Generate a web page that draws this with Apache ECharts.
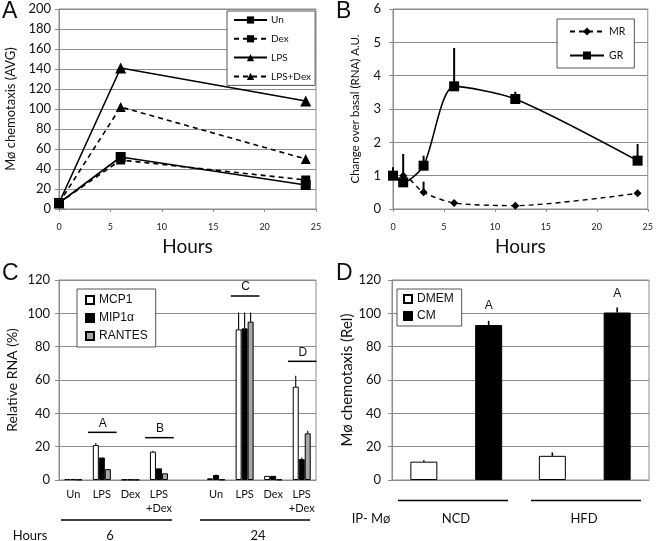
<!DOCTYPE html>
<html><head><meta charset="utf-8">
<script src="https://cdn.jsdelivr.net/npm/echarts@6/dist/echarts.min.js"></script>
<style>html,body{margin:0;padding:0;background:#fff}#c{width:656px;height:541px}</style>
</head><body><div id="c"></div>
<script>
// ---- Panel A ----
const aHours = [0, 6, 24];
const aUn = [6, 52, 24];
const aDex = [6, 49, 29];
const aLPS = [6, 141, 108];
const aLPSDex = [6, 102, 50];
// ---- Panel B ----
const bHours = [0, 1, 3, 6, 12, 24];
const bMR = [1.0, 1.0, 0.5, 0.18, 0.1, 0.47];
const bGR = [1.0, 0.8, 1.3, 3.68, 3.3, 1.45];
const bMRErr = [0, 0.65, 0.32, 0, 0, 0];
const bGRErr = [0.25, 0, 0.3, 1.15, 0.22, 0.5];
// ---- Panel C ----
const cCats = ['Un', 'LPS', 'Dex', 'LPS\n+Dex', '', 'Un', 'LPS', 'Dex', 'LPS\n+Dex'];
const cMCP1 = [0.5, 21, 0.3, 17, null, 1, 90.4, 2.5, 56];
const cMIP1a = [0.5, 13.5, 0.3, 7, null, 3, 91, 2.5, 12.5];
const cRANTES = [0.3, 6.5, 0.2, 4, null, 0.3, 95, 0.3, 28];
const cMCP1Err = [0, 1.2, 0, 0.5, null, 0, 10.1, 0, 6.5];
const cMIP1aErr = [0, 0, 0, 0, null, 0.3, 9.5, 0, 1];
const cRANTESErr = [0, 0, 0, 0, null, 0, 5.5, 0, 1.5];
const cSigLabels = ['A', 'B', 'C', 'D'];
const cSigCats = [1, 3, 6, 8];
const cSigY = [28.6, 25.4, 110.4, 71.2];
const cHourGroups = ['6', '24'];
// ---- Panel D ----
const dCats = ['NCD', 'HFD'];
const dDMEM = [11, 14.5];
const dCM = [93, 100.5];
const dDMEMErr = [0.8, 2];
const dCMErr = [2.5, 3];
const dSig = ['A', 'A'];

const GRID_C = '#8c8c8c';
const FONT = 'Lato';
const AR = 'Liberation Sans';

function valX(gi, extra) {
  return Object.assign({
    gridIndex: gi, type: 'value', min: 0, max: 25, interval: 5,
    axisLine: { show: true, lineStyle: { color: GRID_C } },
    axisTick: { show: true, length: 3, lineStyle: { color: GRID_C } },
    splitLine: { show: false },
    axisLabel: { fontFamily: FONT, fontSize: 9, color: '#222', margin: 14 },
    name: 'Hours', nameLocation: 'middle', nameGap: 28,
    nameTextStyle: { fontFamily: FONT, fontSize: 19, color: '#111' }
  }, extra || {});
}
function valY(gi, max, interval, name, nameGap, nameSize, margin) {
  return {
    gridIndex: gi, type: 'value', min: 0, max: max, interval: interval,
    axisLine: { show: true, lineStyle: { color: GRID_C } },
    axisTick: { show: true, length: 4, lineStyle: { color: GRID_C } },
    splitLine: { show: true, lineStyle: { color: GRID_C, width: 1 } },
    axisLabel: { fontFamily: FONT, fontSize: 13, color: '#111', margin: margin },
    name: name, nameLocation: 'middle', nameGap: nameGap, nameRotate: 90,
    nameTextStyle: { fontFamily: FONT, fontSize: nameSize, color: '#111' }
  };
}
function pairs(xs, ys) { return xs.map((x, i) => [x, ys[i]]); }

const lineBase = { type: 'line', lineStyle: { color: '#000', width: 1.6 }, itemStyle: { color: '#000' }, symbolKeepAspect: true, z: 3 };

function errItem(api, offset) {
  const p0 = api.coord([api.value(0), api.value(1)]);
  const p1 = api.coord([api.value(0), api.value(1) + api.value(2)]);
  return { type: 'line', shape: { x1: p0[0] + offset, y1: p0[1], x2: p1[0] + offset, y2: p1[1] }, style: { stroke: '#000', lineWidth: api.value(3) } };
}

const barW = 6;
function cErrSeries(vals, errs, slot) {
  return {
    type: 'custom', xAxisIndex: 2, yAxisIndex: 2, z: 5, clip: false,
    data: vals.map((v, i) => (v == null || !errs[i]) ? null : [i, v, errs[i], 1.1]).filter(d => d),
    renderItem: (params, api) => errItem(api, (slot - 1) * barW)
  };
}

const option = {
  animation: false,
  backgroundColor: '#fff',
  grid: [
    { left: 59, top: 9, width: 257, height: 200, show: true, borderColor: GRID_C, borderWidth: 1 },
    { left: 393, top: 9, width: 256, height: 200, show: true, borderColor: GRID_C, borderWidth: 1 },
    { left: 59, top: 280, width: 257, height: 200, show: true, borderColor: GRID_C, borderWidth: 1 },
    { left: 392, top: 280, width: 257, height: 200, show: true, borderColor: GRID_C, borderWidth: 1 }
  ],
  xAxis: [
    valX(0),
    valX(1),
    {
      gridIndex: 2, type: 'category', data: cCats,
      axisLine: { show: true, lineStyle: { color: GRID_C } },
      axisTick: { show: false },
      axisLabel: { fontFamily: FONT, fontSize: 11, color: '#111', margin: 7, lineHeight: 14, interval: 0 }
    },
    {
      gridIndex: 3, type: 'category', data: dCats,
      axisLine: { show: true, lineStyle: { color: GRID_C } },
      axisTick: { show: false }, axisLabel: { show: false }
    }
  ],
  yAxis: [
    valY(0, 200, 20, 'Mø chemotaxis (AVG)', 42, 13, 8),
    valY(1, 6, 1, 'Change over basal (RNA) A.U.', 32, 11.5, 12),
    valY(2, 120, 20, 'Relative RNA (%)', 40, 14, 9),
    valY(3, 120, 20, 'Mø chemotaxis (Rel)', 30, 15, 11)
  ],
  legend: [
    {
      data: ['Un', 'Dex', 'LPS', 'LPS+Dex'], orient: 'vertical', left: 227, top: 11,
      itemWidth: 33, itemHeight: 9, itemGap: 8.8, padding: [4, 4, 4, 6],
      borderColor: '#555', borderWidth: 1, backgroundColor: '#fff',
      textStyle: { fontFamily: FONT, fontSize: 10, color: '#111', padding: [0, 0, 0, -1] }
    },
    {
      data: ['MR', 'GR'], orient: 'vertical', left: 557, top: 19,
      itemWidth: 34, itemHeight: 10, itemGap: 13, padding: [7, 9, 7, 12],
      borderColor: '#555', borderWidth: 1, backgroundColor: '#fff',
      textStyle: { fontFamily: FONT, fontSize: 10.5, color: '#111' }
    },
    {
      data: ['MCP1', 'MIP1α', 'RANTES'], orient: 'vertical', left: 77, top: 289,
      icon: 'rect', itemWidth: 8, itemHeight: 8, itemGap: 6, padding: [5, 8, 5, 8],
      borderColor: '#555', borderWidth: 1, backgroundColor: '#fff',
      textStyle: { fontFamily: AR, fontSize: 12, color: '#111' }
    },
    {
      data: ['DMEM', 'CM'], orient: 'vertical', left: 397, top: 289,
      icon: 'rect', itemWidth: 8, itemHeight: 8, itemGap: 5, padding: [4, 8, 4, 6],
      borderColor: '#555', borderWidth: 1, backgroundColor: '#fff',
      textStyle: { fontFamily: AR, fontSize: 12, color: '#111' }
    }
  ],
  series: [
    // Panel A
    Object.assign({}, lineBase, { name: 'Un', xAxisIndex: 0, yAxisIndex: 0, data: pairs(aHours, aUn), symbol: 'rect', symbolSize: 10 }),
    Object.assign({}, lineBase, { name: 'Dex', xAxisIndex: 0, yAxisIndex: 0, data: pairs(aHours, aDex), symbol: 'rect', symbolSize: 9, lineStyle: { color: '#000', width: 1.6, type: [5, 4] } }),
    Object.assign({}, lineBase, { name: 'LPS', xAxisIndex: 0, yAxisIndex: 0, data: pairs(aHours, aLPS), symbol: 'triangle', symbolSize: 11 }),
    Object.assign({}, lineBase, { name: 'LPS+Dex', xAxisIndex: 0, yAxisIndex: 0, data: pairs(aHours, aLPSDex), symbol: 'triangle', symbolSize: 10, lineStyle: { color: '#000', width: 1.6, type: [5, 4] } }),
    // Panel B
    Object.assign({}, lineBase, { name: 'MR', xAxisIndex: 1, yAxisIndex: 1, data: pairs(bHours, bMR), symbol: 'diamond', symbolSize: 8, smooth: 0.25, lineStyle: { color: '#000', width: 1.4, type: [5, 4] } }),
    Object.assign({}, lineBase, { name: 'GR', xAxisIndex: 1, yAxisIndex: 1, data: pairs(bHours, bGR), symbol: 'rect', symbolSize: 10, smooth: 0.25 }),
    {
      type: 'custom', xAxisIndex: 1, yAxisIndex: 1, z: 2, clip: false,
      data: bHours.map((h, i) => [h, bGR[i], bGRErr[i], 2]).filter(d => d[2] > 0)
        .concat(bHours.map((h, i) => [h, bMR[i], bMRErr[i], 2]).filter(d => d[2] > 0)),
      renderItem: (params, api) => errItem(api, 0)
    },
    // Panel C
    { name: 'MCP1', type: 'bar', xAxisIndex: 2, yAxisIndex: 2, data: cMCP1, barWidth: barW, barGap: '0%', itemStyle: { color: '#fff', borderColor: '#000', borderWidth: 1 } },
    { name: 'MIP1α', type: 'bar', xAxisIndex: 2, yAxisIndex: 2, data: cMIP1a, barWidth: barW, barGap: '0%', itemStyle: { color: '#000', borderColor: '#000', borderWidth: 1 } },
    { name: 'RANTES', type: 'bar', xAxisIndex: 2, yAxisIndex: 2, data: cRANTES, barWidth: barW, barGap: '0%', itemStyle: { color: '#a6a6a6', borderColor: '#000', borderWidth: 1 } },
    cErrSeries(cMCP1, cMCP1Err, 0),
    cErrSeries(cMIP1a, cMIP1aErr, 1),
    cErrSeries(cRANTES, cRANTESErr, 2),
    {
      type: 'custom', xAxisIndex: 2, yAxisIndex: 2, z: 6, clip: false,
      data: cSigCats.map((c, i) => [c, cSigY[i]]),
      renderItem: (params, api) => {
        const p = api.coord([api.value(0), api.value(1)]);
        const w = api.size([1, 0])[0];
        return {
          type: 'group', children: [
            { type: 'line', shape: { x1: p[0] - w / 2 + 0.5, y1: p[1], x2: p[0] + w / 2 + 0.5, y2: p[1] }, style: { stroke: '#000', lineWidth: 1.5 } },
            { type: 'text', style: { x: p[0] + 1, y: p[1] - 3, text: cSigLabels[params.dataIndex], fontFamily: AR, fontSize: 12, fill: '#111', align: 'center', verticalAlign: 'bottom' } }
          ]
        };
      }
    },
    // Panel D
    { name: 'DMEM', type: 'bar', xAxisIndex: 3, yAxisIndex: 3, data: dDMEM, barWidth: 27, barGap: '140%', itemStyle: { color: '#fff', borderColor: '#000', borderWidth: 1 } },
    { name: 'CM', type: 'bar', xAxisIndex: 3, yAxisIndex: 3, data: dCM, barWidth: 27, barGap: '140%', itemStyle: { color: '#000', borderColor: '#000', borderWidth: 1 },
      label: { show: true, position: 'top', distance: 13, formatter: p => dSig[p.dataIndex], fontFamily: AR, fontSize: 12, color: '#111' } },
    {
      type: 'custom', xAxisIndex: 3, yAxisIndex: 3, z: 1, clip: false,
      data: dDMEM.map((v, i) => [i, v, dDMEMErr[i], 1.6]),
      renderItem: (params, api) => errItem(api, -32.4)
    },
    {
      type: 'custom', xAxisIndex: 3, yAxisIndex: 3, z: 1, clip: false,
      data: dCM.map((v, i) => [i, v, dCMErr[i], 1.6]),
      renderItem: (params, api) => errItem(api, 32.4)
    }
  ],
  graphic: [
    { type: 'text', left: 2, top: 0, style: { text: 'A', fontFamily: AR, fontSize: 23, fill: '#111' } },
    { type: 'text', left: 336, top: 0, style: { text: 'B', fontFamily: AR, fontSize: 23, fill: '#111' } },
    { type: 'text', left: 2, top: 262, style: { text: 'C', fontFamily: AR, fontSize: 23, fill: '#111' } },
    { type: 'text', left: 336, top: 262, style: { text: 'D', fontFamily: AR, fontSize: 23, fill: '#111' } },
    // Panel C group lines & labels
    { type: 'line', shape: { x1: 61, y1: 520, x2: 172, y2: 520 }, style: { stroke: '#000', lineWidth: 1.4 } },
    { type: 'line', shape: { x1: 200, y1: 520, x2: 310, y2: 520 }, style: { stroke: '#000', lineWidth: 1.4 } },
    { type: 'text', x: 30, y: 536, style: { text: 'Hours', fontFamily: FONT, fontSize: 13, fill: '#111', align: 'center', verticalAlign: 'middle' } },
    { type: 'text', x: 110, y: 536, style: { text: cHourGroups[0], fontFamily: FONT, fontSize: 13, fill: '#111', align: 'center', verticalAlign: 'middle' } },
    { type: 'text', x: 258, y: 536, style: { text: cHourGroups[1], fontFamily: FONT, fontSize: 13, fill: '#111', align: 'center', verticalAlign: 'middle' } },
    // Panel D group lines & labels
    { type: 'line', shape: { x1: 398, y1: 500.5, x2: 508, y2: 500.5 }, style: { stroke: '#000', lineWidth: 1.4 } },
    { type: 'line', shape: { x1: 531, y1: 500.5, x2: 641, y2: 500.5 }, style: { stroke: '#000', lineWidth: 1.4 } },
    { type: 'text', x: 371, y: 519, style: { text: 'IP- Mø', fontFamily: FONT, fontSize: 13, fill: '#111', align: 'center', verticalAlign: 'middle' } },
    { type: 'text', x: 456, y: 519, style: { text: dCats[0], fontFamily: FONT, fontSize: 13, fill: '#111', align: 'center', verticalAlign: 'middle' } },
    { type: 'text', x: 584, y: 519, style: { text: dCats[1], fontFamily: FONT, fontSize: 13, fill: '#111', align: 'center', verticalAlign: 'middle' } }
  ]
};
const chart = echarts.init(document.getElementById('c'), null, { renderer: 'canvas' });
chart.setOption(option);
</script>
</body></html>
